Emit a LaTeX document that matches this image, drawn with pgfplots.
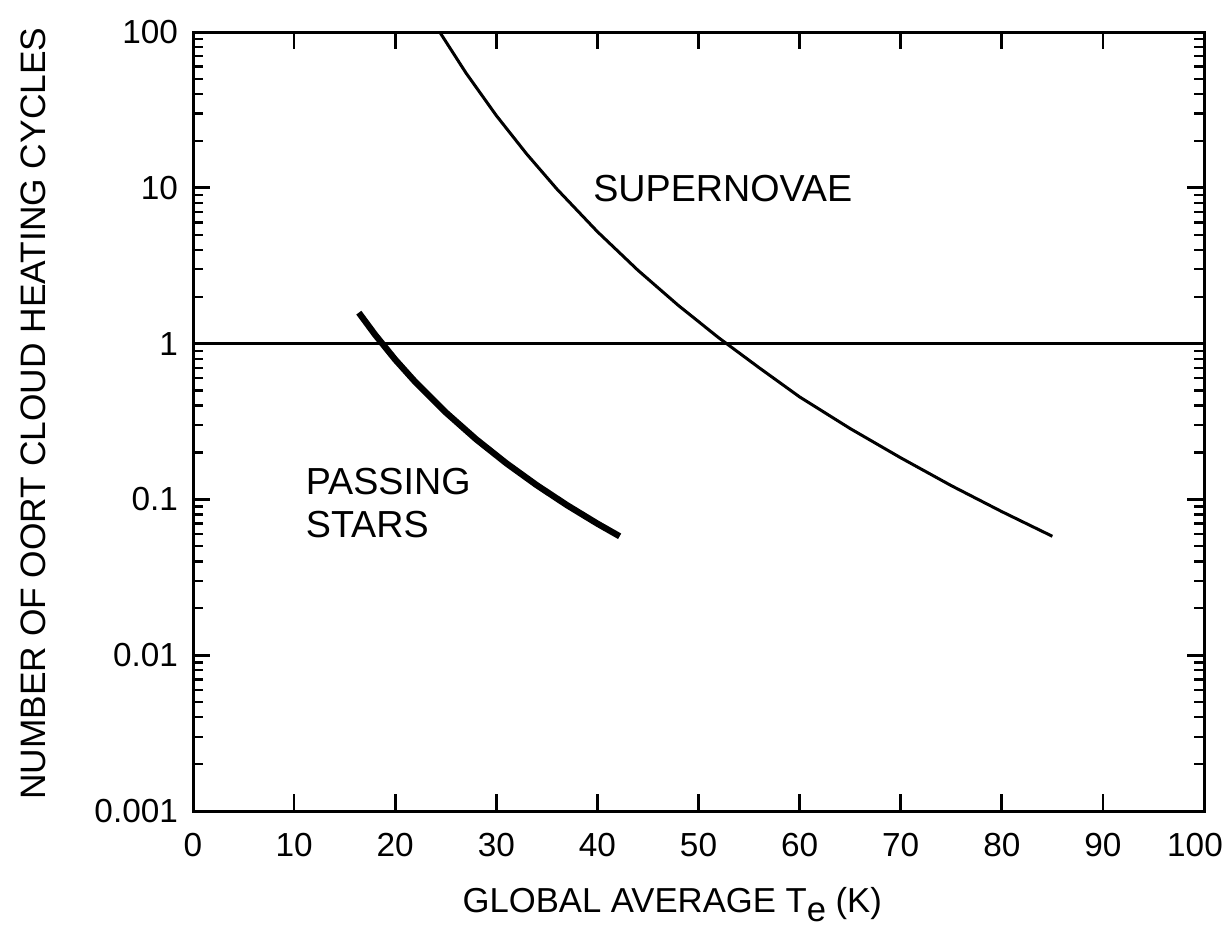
\documentclass[border=0pt]{standalone}
\usepackage{fontspec}
\setmainfont{Liberation Sans}
\usepackage{pgfplots}
\pgfplotsset{compat=1.18}
\begin{document}
\begin{tikzpicture}
\begin{axis}[
  scale only axis,
  width=303.3pt, height=233.7pt,
  xmin=0, xmax=100, ymode=log, ymin=0.001, ymax=100,
  axis line style={line width=0.9pt},
  xtick={0,10,...,100},
  xticklabels={0,10,20,30,40,50,60,70,80,90,{100\rule{5.4pt}{0pt}}},
  ytick={0.001,0.01,0.1,1,10,100},
  yticklabels={0.001,0.01,0.1,1,10,100},
  /pgf/number format/assume math mode=true,
  tick align=inside,
  xtick pos=both, ytick pos=both,
  major tick length=5pt, minor tick length=3pt,
  every major tick/.style={line width=0.8pt, black},
  every minor tick/.style={line width=0.7pt, black},
  ticklabel style={font=\fontsize{10}{12}\selectfont},
  xticklabel style={yshift=-3.2pt},
  yticklabel style={xshift=-1pt},
  xlabel={GLOBAL AVERAGE T\raisebox{-0.45ex}{e} (K)},
  ylabel={NUMBER OF OORT CLOUD HEATING CYCLES},
  xlabel style={font=\fontsize{10.4}{12}\selectfont, at={(axis description cs:0.474,-0.12)}, anchor=center},
  ylabel style={font=\fontsize{10.6}{12}\selectfont, at={(axis description cs:-0.158,0.51)}, anchor=center},
  clip=false,
]
\addplot[black, line width=1pt] coordinates {(0,1) (100,1)};
% Supernovae
\addplot[black, line width=0.9pt] coordinates {
 (24.4,100) (27,54.6) (30,29.1) (33,16.5) (36,9.81) (40,5.23) (44,2.96) (48,1.76)
 (52,1.09) (56,0.70) (60,0.455) (65,0.285) (70,0.185) (75,0.1226) (80,0.0835) (85,0.058)};
% Passing stars
\addplot[black, line width=1.9pt] coordinates {
 (16.4,1.58) (18,1.143) (20,0.790) (22,0.566) (25,0.362) (28,0.2434) (31,0.1705)
 (34,0.1234) (37,0.0918) (40,0.0699) (42.2,0.058)};
\node[font=\fontsize{11.3}{13}\selectfont] at (axis cs:52.4,9.85) {SUPERNOVAE};
\node[font=\fontsize{11.3}{12.9}\selectfont, align=left, anchor=west, inner sep=0pt] at (axis cs:11.1,0.0955) {PASSING\\STARS};
\coordinate (sw) at (rel axis cs:0,0);
\coordinate (ne) at (rel axis cs:1,1);
\end{axis}
\pgfresetboundingbox
\path[use as bounding box] ([xshift=-57.9pt,yshift=-36pt]sw) rectangle ([xshift=6.9pt,yshift=9.6pt]ne);
\end{tikzpicture}
\end{document}
